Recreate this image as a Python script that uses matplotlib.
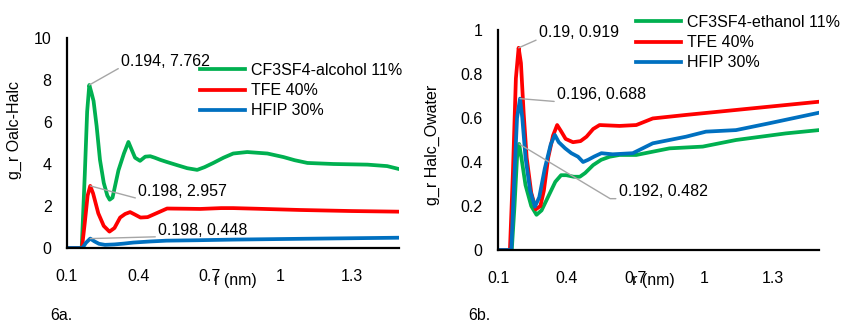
import matplotlib
matplotlib.use("Agg")
import matplotlib.pyplot as plt

plt.rcParams['font.family'] = ['Liberation Sans', 'DejaVu Sans']

# ---- Panel a data (r in nm, g_r) ----
a_green_x = [0.10, 0.162, 0.175, 0.185, 0.194, 0.203, 0.212, 0.225, 0.239, 0.255, 0.270, 0.280, 0.292, 0.317, 0.340, 0.359, 0.372, 0.387, 0.408, 0.430, 0.451, 0.470, 0.493, 0.520, 0.563, 0.607, 0.649, 0.680, 0.717, 0.760, 0.801, 0.860, 0.945, 1.013, 1.060, 1.114, 1.224, 1.367, 1.450, 1.50]
a_green_y = [0.0, 0.0, 3.5, 6.5, 7.762, 7.4, 7.0, 5.8, 4.2, 3.1, 2.5, 2.3, 2.4, 3.7, 4.5, 5.05, 4.7, 4.3, 4.15, 4.35, 4.37, 4.3, 4.2, 4.1, 3.95, 3.8, 3.72, 3.85, 4.05, 4.3, 4.5, 4.57, 4.5, 4.33, 4.18, 4.05, 4.0, 3.97, 3.9, 3.76]

a_red_x = [0.10, 0.163, 0.175, 0.187, 0.198, 0.210, 0.232, 0.255, 0.279, 0.300, 0.324, 0.345, 0.366, 0.385, 0.410, 0.440, 0.480, 0.522, 0.600, 0.662, 0.750, 0.800, 0.900, 1.084, 1.300, 1.50]
a_red_y = [0.0, 0.0, 1.2, 2.5, 2.957, 2.6, 1.65, 1.05, 0.78, 0.95, 1.45, 1.62, 1.71, 1.6, 1.45, 1.47, 1.67, 1.88, 1.87, 1.86, 1.9, 1.9, 1.87, 1.81, 1.76, 1.73]

a_blue_x = [0.10, 0.165, 0.180, 0.198, 0.215, 0.235, 0.260, 0.300, 0.340, 0.380, 0.450, 0.520, 0.650, 0.800, 1.100, 1.50]
a_blue_y = [0.0, 0.0, 0.25, 0.448, 0.32, 0.2, 0.15, 0.17, 0.21, 0.26, 0.31, 0.35, 0.37, 0.40, 0.44, 0.49]

# ---- Panel b data ----
b_green_x = [0.10, 0.160, 0.172, 0.183, 0.192, 0.202, 0.220, 0.245, 0.268, 0.290, 0.326, 0.350, 0.375, 0.398, 0.430, 0.457, 0.480, 0.515, 0.550, 0.587, 0.630, 0.703, 0.848, 0.993, 1.138, 1.355, 1.50]
b_green_y = [0.0, 0.0, 0.2, 0.42, 0.482, 0.42, 0.295, 0.2, 0.16, 0.18, 0.258, 0.31, 0.34, 0.34, 0.333, 0.333, 0.35, 0.386, 0.41, 0.424, 0.432, 0.432, 0.462, 0.47, 0.50, 0.53, 0.545]

b_red_x = [0.10, 0.152, 0.165, 0.178, 0.190, 0.200, 0.212, 0.225, 0.245, 0.265, 0.285, 0.300, 0.319, 0.340, 0.358, 0.375, 0.395, 0.427, 0.460, 0.486, 0.515, 0.543, 0.630, 0.703, 0.775, 0.920, 1.065, 1.210, 1.355, 1.50]
b_red_y = [0.0, 0.0, 0.35, 0.78, 0.919, 0.85, 0.62, 0.42, 0.26, 0.185, 0.2, 0.27, 0.42, 0.52, 0.568, 0.54, 0.505, 0.49, 0.495, 0.515, 0.55, 0.568, 0.564, 0.568, 0.598, 0.614, 0.629, 0.644, 0.659, 0.674]

b_blue_x = [0.10, 0.158, 0.170, 0.183, 0.196, 0.206, 0.220, 0.240, 0.261, 0.280, 0.304, 0.330, 0.348, 0.365, 0.393, 0.420, 0.449, 0.471, 0.493, 0.520, 0.551, 0.600, 0.688, 0.775, 0.920, 1.007, 1.138, 1.283, 1.50]
b_blue_y = [0.0, 0.0, 0.3, 0.6, 0.688, 0.6, 0.42, 0.27, 0.197, 0.24, 0.37, 0.48, 0.523, 0.49, 0.462, 0.44, 0.424, 0.40, 0.41, 0.425, 0.44, 0.435, 0.44, 0.485, 0.515, 0.538, 0.545, 0.576, 0.624]

x_ticks = [0.1, 0.4, 0.7, 1.0, 1.3]
x_ticklabels = ["0.1", "0.4", "0.7", "1", "1.3"]
a_yticks = [0, 2, 4, 6, 8, 10]
b_yticks = [0, 0.2, 0.4, 0.6, 0.8, 1]
b_yticklabels = ["0", "0.2", "0.4", "0.6", "0.8", "1"]

GREEN = "#00B050"
RED = "#FF0000"
BLUE = "#0070C0"
GRAY = "#A6A6A6"
FS = 11.5

fig = plt.figure(figsize=(8.44, 3.22), dpi=100)
W, H = 844, 322

def px_axes(l, t, r, b):
    return fig.add_axes([l / W, 1 - b / H, (r - l) / W, (b - t) / H])

axa = px_axes(67, 38, 399, 248)
axb = px_axes(498, 30, 819, 250)

for ax in (axa, axb):
    for s in ("top", "right"):
        ax.spines[s].set_visible(False)
    for s in ("left", "bottom"):
        ax.spines[s].set_linewidth(1.6)
        ax.spines[s].set_color("black")
    ax.set_xlim(0.1, 1.5)
    ax.set_xticks(x_ticks)
    ax.set_xticklabels(x_ticklabels)
    ax.tick_params(axis="both", length=0, labelsize=FS)
    ax.tick_params(axis="x", pad=15)
    ax.tick_params(axis="y", pad=11)

lw = 2.7
axa.plot(a_green_x, a_green_y, color=GREEN, lw=lw, label="CF3SF4-alcohol 11%")
axa.plot(a_red_x, a_red_y, color=RED, lw=lw, label="TFE 40%")
axa.plot(a_blue_x, a_blue_y, color=BLUE, lw=lw, label="HFIP 30%")
axa.set_ylim(0, 10)
axa.set_yticks(a_yticks)

axb.plot(b_green_x, b_green_y, color=GREEN, lw=lw, label="CF3SF4-ethanol 11%")
axb.plot(b_red_x, b_red_y, color=RED, lw=lw, label="TFE 40%")
axb.plot(b_blue_x, b_blue_y, color=BLUE, lw=lw, label="HFIP 30%")
axb.set_ylim(0, 1)
axb.set_yticks(b_yticks)
axb.set_yticklabels(b_yticklabels)

axa.set_ylabel("g_r Oalc-Halc", fontsize=FS)
axa.yaxis.set_label_coords(-0.136, 0.56)
axb.set_ylabel("g_r Halc_Owater", fontsize=FS)
axb.yaxis.set_label_coords(-0.18, 0.48)

axa.text(0.506, -0.157, "r (nm)", transform=axa.transAxes, ha="center", va="center", fontsize=FS)
axb.text(0.483, -0.14, "r (nm)", transform=axb.transAxes, ha="center", va="center", fontsize=FS)

fig.text(50 / W, 1 - 315 / H, "6a.", fontsize=FS, ha="left", va="center")
fig.text(468 / W, 1 - 315 / H, "6b.", fontsize=FS, ha="left", va="center")

leg_kw = dict(frameon=False, fontsize=FS, handlelength=2.8, handletextpad=0.4,
              labelspacing=0.32, borderpad=0, borderaxespad=0, loc="upper left")
fig.legend(handles=axa.get_lines(), bbox_to_anchor=(200 / W, 1 - 63 / H), **leg_kw)
fig.legend(handles=axb.get_lines(), bbox_to_anchor=(636 / W, 1 - 15 / H), **leg_kw)

def ann(ax, xy, xytext, text, conn="arc3"):
    ax.annotate(text, xy=xy, xytext=xytext, textcoords="data", fontsize=FS,
                ha="left", va="center",
                arrowprops=dict(arrowstyle="-", color=GRAY, lw=1.0, shrinkA=0, shrinkB=0,
                                relpos=(0, 0.05), connectionstyle=conn))

ann(axa, (0.194, 7.762), (0.328, 8.86), "0.194, 7.762", "angle,angleA=180,angleB=29.5")
ann(axa, (0.198, 2.957), (0.40, 2.67), "0.198, 2.957")
ann(axa, (0.198, 0.448), (0.484, 0.857), "0.198, 0.448")

ann(axb, (0.19, 0.919), (0.278, 0.99), "0.19, 0.919")
ann(axb, (0.196, 0.688), (0.357, 0.705), "0.196, 0.688")
ann(axb, (0.192, 0.482), (0.626, 0.264), "0.192, 0.482", "angle,angleA=180,angleB=-31")

fig.savefig("out.png", dpi=100)
